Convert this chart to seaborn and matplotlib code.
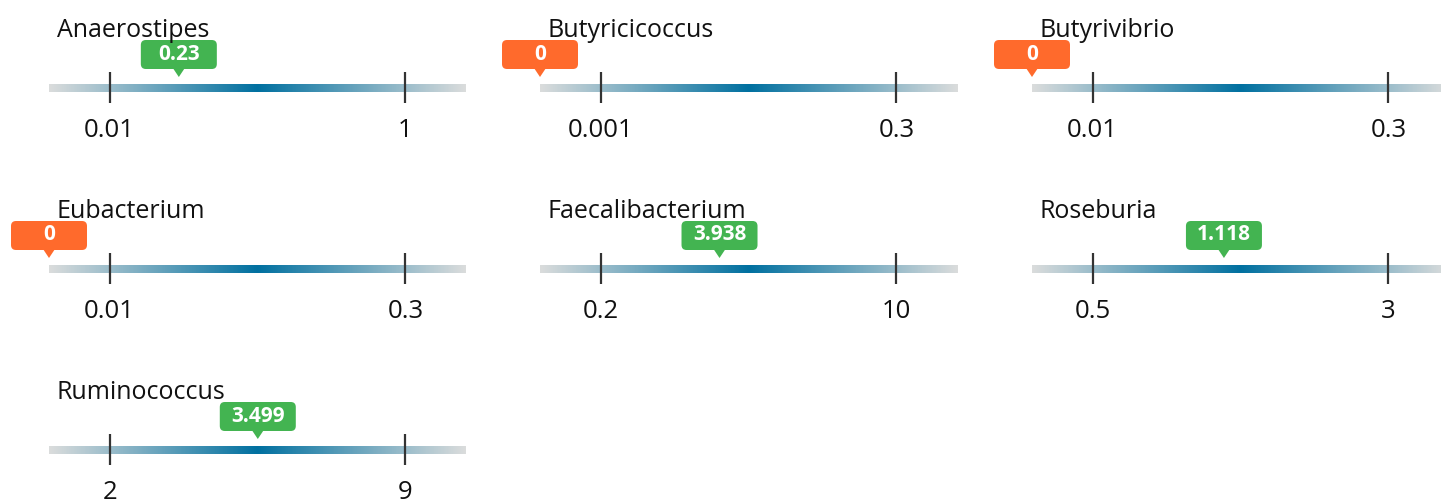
import numpy as np
import seaborn as sns
import matplotlib
matplotlib.use("Agg")
import matplotlib.pyplot as plt
import matplotlib.transforms as mtransforms
from matplotlib.patches import FancyBboxPatch, Polygon

# data
genera = ["Anaerostipes", "Butyricicoccus", "Butyrivibrio", "Eubacterium",
          "Faecalibacterium", "Roseburia", "Ruminococcus"]
low_ticks = ["0.01", "0.001", "0.01", "0.01", "0.2", "0.5", "2"]
high_ticks = ["1", "0.3", "0.3", "0.3", "10", "3", "9"]
values = ["0.23", "0", "0", "0", "3.938", "1.118", "3.499"]
# marker position on the reference scale (low tick = 0, high tick = 1)
positions = [0.234, -0.205, -0.205, -0.205, 0.402, 0.444, 0.501]

sns.set_theme(style="white")
plt.rcParams["font.family"] = ["Open Sans", "DejaVu Sans"]

W, H = 1441, 503
fig = plt.figure(figsize=(W / 100, H / 100), dpi=100)

cmap = sns.blend_palette(["#dadcdc", "#0070a0", "#dadcdc"], as_cmap=True)
grad = np.linspace(0, 1, 600)[np.newaxis, :]
xmin, xmax = -0.205, 1.205
green, orange = "#43b451", "#ff6a2c"

col_left = [49, 540, 1032]
for i, name in enumerate(genera):
    row, col = divmod(i, 3)
    cy = 88 + row * 181
    ax = fig.add_axes([col_left[col] / W, (H - cy - 65) / H, 417 / W, 150 / H])
    ax.imshow(grad, extent=[xmin, xmax, -4, 4], aspect="auto", cmap=cmap,
              interpolation="bilinear")
    ax.set_xlim(xmin, xmax)
    ax.set_ylim(-65, 85)
    ax.axis("off")

    ax.vlines([0, 1], -15, 16, color="#333333", lw=1.6)
    ax.text(0, -49, low_ticks[i], ha="center", va="baseline", fontsize=18.5,
            color="#111111")
    ax.text(1, -49, high_ticks[i], ha="center", va="baseline", fontsize=18.5,
            color="#111111")
    ax.text(xmin + 8 / 296, 51, name, ha="left", va="baseline", fontsize=18,
            color="#111111")

    # badge drawn in pixels, anchored on the marker position
    pos = positions[i]
    c = orange if float(values[i]) < float(low_ticks[i]) else green
    tr = mtransforms.ScaledTranslation(pos, 0, ax.transData)
    tr = mtransforms.IdentityTransform() + tr
    box = FancyBboxPatch((-38, 19), 76, 29, boxstyle="round,pad=0,rounding_size=5",
                         fc=c, ec="none", transform=tr, clip_on=False)
    tip = Polygon([(-6, 20), (6, 20), (0, 11)], closed=True, fc=c, ec="none",
                  transform=tr, clip_on=False)
    ax.add_patch(box)
    ax.add_patch(tip)
    ax.text(0, 34, values[i], ha="center", va="center", fontsize=15,
            fontweight="bold", color="white", transform=tr, clip_on=False)

fig.savefig("out.png", dpi=100)
